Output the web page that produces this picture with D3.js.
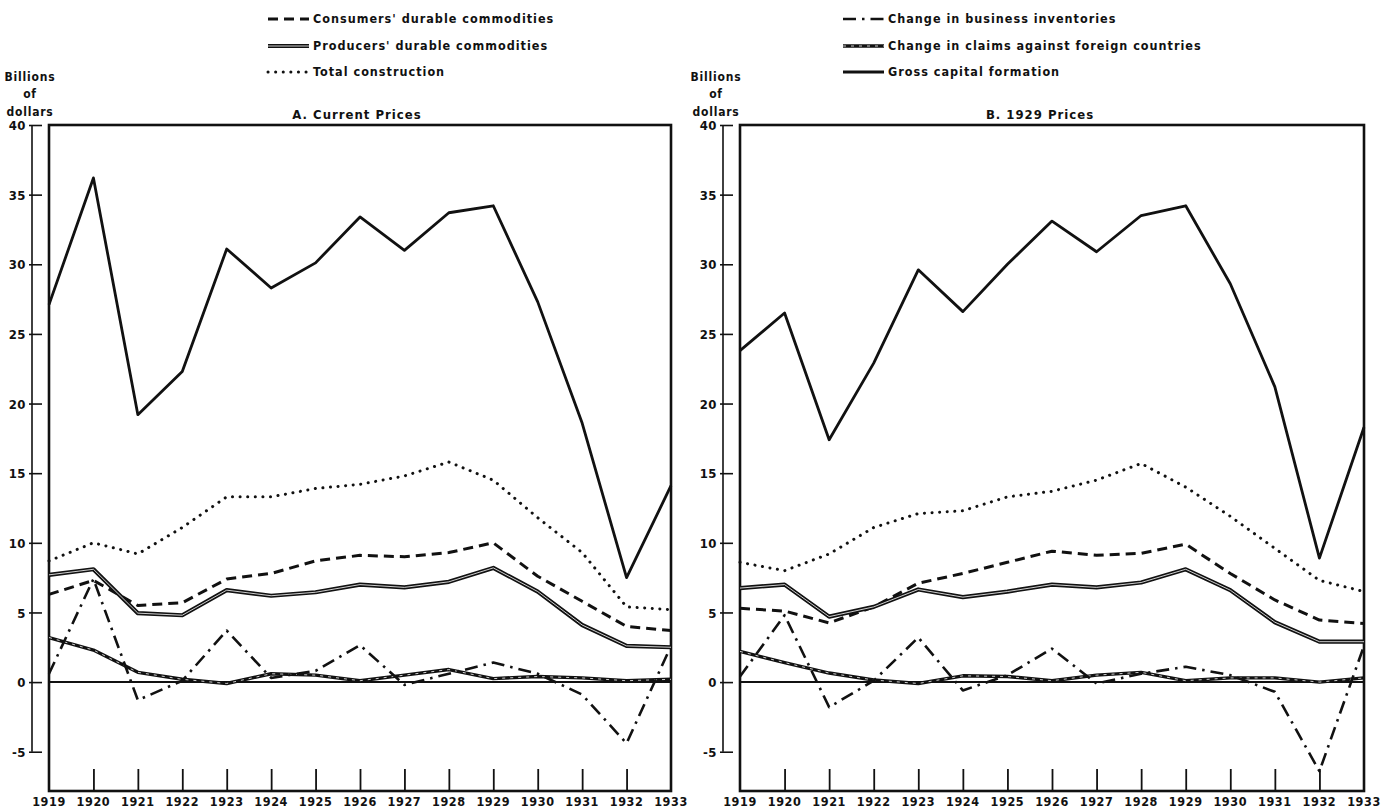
<!DOCTYPE html>
<html><head><meta charset="utf-8">
<script src="https://cdn.jsdelivr.net/npm/d3@7"></script>
<style>
body{margin:0;background:#fff;}
text{font-family:"DejaVu Sans Condensed","DejaVu Sans",sans-serif;font-weight:bold;fill:#111;}
</style></head>
<body>
<svg id="chart" width="1390" height="811"></svg>
<script>
const years = [1919,1920,1921,1922,1923,1924,1925,1926,1927,1928,1929,1930,1931,1932,1933];
const yTicks = [40,35,30,25,20,15,10,5,0,-5];

// Panel A: current prices (billions of dollars)
const A_gross      = [27.1,36.2,19.2,22.3,31.1,28.3,30.1,33.4,31.0,33.7,34.2,27.3,18.6,7.5,14.1];
const A_construct  = [8.7,10.0,9.2,11.1,13.3,13.3,13.9,14.2,14.8,15.8,14.5,11.8,9.3,5.4,5.2];
const A_consumers  = [6.3,7.3,5.5,5.7,7.4,7.8,8.7,9.1,9.0,9.3,10.0,7.6,5.8,4.0,3.7];
const A_producers  = [7.7,8.1,4.95,4.8,6.6,6.2,6.45,7.0,6.8,7.2,8.2,6.5,4.1,2.6,2.5];
const A_inventory  = [0.6,7.4,-1.3,0.1,3.7,0.3,0.8,2.65,-0.2,0.6,1.4,0.6,-0.9,-4.4,2.6];
const A_claims     = [3.2,2.3,0.7,0.2,-0.1,0.6,0.5,0.1,0.5,0.9,0.25,0.4,0.3,0.1,0.2];

// Panel B: 1929 prices
const B_gross      = [23.8,26.5,17.4,22.9,29.6,26.6,30.0,33.1,30.9,33.5,34.2,28.6,21.2,8.9,18.3];
const B_construct  = [8.6,8.0,9.2,11.1,12.1,12.3,13.3,13.7,14.5,15.7,14.0,11.9,9.6,7.3,6.5];
const B_consumers  = [5.3,5.1,4.25,5.4,7.1,7.8,8.6,9.4,9.1,9.25,9.9,7.8,5.9,4.45,4.2];
const B_producers  = [6.75,7.0,4.7,5.4,6.65,6.1,6.5,7.0,6.8,7.15,8.1,6.6,4.3,2.9,2.9];
const B_inventory  = [0.4,4.8,-1.8,0.1,3.2,-0.6,0.5,2.4,-0.1,0.6,1.1,0.5,-0.7,-6.4,2.6];
const B_claims     = [2.2,1.4,0.65,0.15,-0.1,0.45,0.4,0.1,0.5,0.7,0.1,0.3,0.3,0.0,0.3];

const legendA = ["Consumers' durable commodities","Producers' durable commodities","Total construction"];
const legendB = ["Change in business inventories","Change in claims against foreign countries","Gross capital formation"];
const titles = ["A. Current Prices","B. 1929 Prices"];

const svg = d3.select("#chart");
const y = d3.scaleLinear().domain([-7.82,40]).range([791,125]);

const styles = {
  consumers: [{w:3, dash:"10,6"}],
  producers: [{w:4.2}, {w:0.8, color:"#fff"}],
  construct: [{w:3, dash:"0.1,7.5", cap:"round"}],
  inventory: [{w:2.6, dash:"13,6,2.5,6"}],
  claims:    [{w:3.4}, {w:0.8, color:"#fff", dash:"3,5"}],
  gross:     [{w:2.8}]
};

function drawStyled(g, d, key){
  styles[key].forEach(s=>{
    g.append("path").attr("d",d).attr("fill","none")
     .attr("stroke",s.color||"#111").attr("stroke-width",s.w)
     .attr("stroke-dasharray",s.dash||null)
     .attr("stroke-linecap",s.cap||"butt").attr("stroke-linejoin","round");
  });
}

function panel(opts){
  const x = d3.scaleLinear().domain([1919,1933]).range([opts.x0, opts.x1]);
  const g = svg.append("g");
  const ax = opts.axisX;
  g.append("line").attr("x1",ax).attr("x2",ax).attr("y1",y(40)).attr("y2",y(-5))
    .attr("stroke","#111").attr("stroke-width",1.6);
  const yAxis = d3.axisRight(y).tickValues(yTicks).tickSize(opts.x0-7-ax+3).tickFormat(d=>d);
  const ya = g.append("g").attr("transform",`translate(${ax-3},0)`).call(yAxis);
  ya.select(".domain").remove();
  ya.selectAll(".tick line").attr("stroke","#111").attr("stroke-width",1.6);
  ya.selectAll(".tick text").attr("x",-3).attr("text-anchor","end").attr("dy","0.35em")
    .style("font-size","13px").style("font-family","DejaVu Sans Condensed").style("letter-spacing","0.5px");
  [["Billions",81],["of",98],["dollars",116]].forEach(([t,yy])=>{
    g.append("text").attr("x",opts.unitX).attr("y",yy).attr("text-anchor","middle")
     .style("font-size","12px").style("letter-spacing","0.8px").text(t);
  });
  g.append("text").attr("x",opts.titleX).attr("y",119).attr("text-anchor","middle")
   .style("font-size","13px").style("letter-spacing","1px").text(opts.title);
  g.append("rect").attr("x",opts.x0).attr("y",y(40)).attr("width",opts.x1-opts.x0)
   .attr("height",y(-7.82)-y(40)).attr("fill","none").attr("stroke","#111").attr("stroke-width",2.6);
  const xAxis = d3.axisTop(x).tickValues(years.slice(1,-1)).tickSize(22).tickFormat("");
  const xa = g.append("g").attr("transform",`translate(0,${y(-7.82)})`).call(xAxis);
  xa.select(".domain").remove();
  xa.selectAll(".tick line").attr("stroke","#111").attr("stroke-width",1.8);
  g.selectAll(".yl").data(years).enter().append("text")
   .attr("x",d=>x(d)).attr("y",806).attr("text-anchor","middle")
   .style("font-size","12.5px").style("letter-spacing","0.6px").text(d=>d);
  g.append("line").attr("x1",opts.x0).attr("x2",opts.x1).attr("y1",y(0)).attr("y2",y(0))
   .attr("stroke","#111").attr("stroke-width",2);
  const line = d3.line().x((d,i)=>x(years[i])).y(d=>y(d));
  const s = opts.series;
  const lg = g.append("g");
  drawStyled(lg, line(s.claims), "claims");
  drawStyled(lg, line(s.inventory), "inventory");
  drawStyled(lg, line(s.construct), "construct");
  drawStyled(lg, line(s.consumers), "consumers");
  drawStyled(lg, line(s.producers), "producers");
  drawStyled(lg, line(s.gross), "gross");
  const rows = [19,46,72];
  opts.legend.forEach((t,i)=>{
    const yy = rows[i];
    const lk = opts.legendKeys[i];
    drawStyled(g, `M${opts.legX},${yy}L${opts.legX+41},${yy}`, lk);
    g.append("text").attr("x",opts.legX+45).attr("y",yy).attr("dy","0.35em")
     .style("font-size","12.5px").style("letter-spacing","1px").text(t);
  });
}

panel({x0:49,x1:671,axisX:32,unitX:30,titleX:357,title:titles[0],legX:268,
  legend:legendA,legendKeys:["consumers","producers","construct"],
  series:{gross:A_gross,construct:A_construct,consumers:A_consumers,producers:A_producers,inventory:A_inventory,claims:A_claims}});
panel({x0:740,x1:1364,axisX:723,unitX:716,titleX:1040,title:titles[1],legX:843,
  legend:legendB,legendKeys:["inventory","claims","gross"],
  series:{gross:B_gross,construct:B_construct,consumers:B_consumers,producers:B_producers,inventory:B_inventory,claims:B_claims}});
</script>
</body></html>
